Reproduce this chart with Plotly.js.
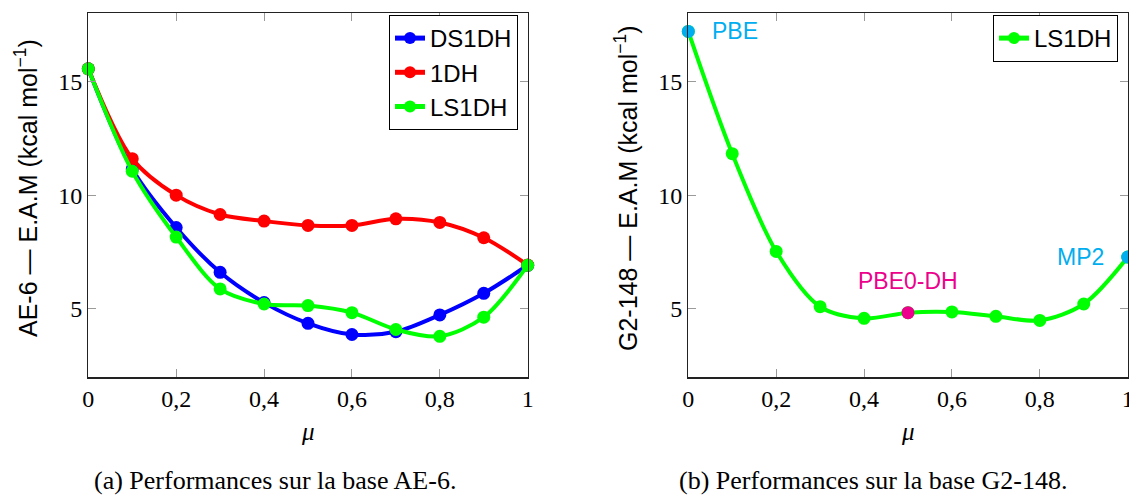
<!DOCTYPE html>
<html>
<head>
<meta charset="utf-8">
<script src="https://cdn.plot.ly/plotly-3.0.1.min.js"></script>
<style>
html,body{margin:0;padding:0;background:#fff;}
#chart{width:1129px;height:498px;}
</style>
</head>
<body>
<div id="chart"></div>
<script>
// ---- data ----
const mu = [0, 0.1, 0.2, 0.3, 0.4, 0.5, 0.6, 0.7, 0.8, 0.9, 1];
const ds1dhAE6 = [15.55, 11.15, 8.58, 6.61, 5.28, 4.37, 3.88, 4.00, 4.74, 5.69, 6.92];
const oneDhAE6 = [15.55, 11.60, 10.00, 9.15, 8.86, 8.67, 8.67, 8.96, 8.80, 8.13, 6.93];
const ls1dhAE6 = [15.55, 11.05, 8.16, 5.88, 5.22, 5.15, 4.84, 4.10, 3.80, 4.64, 6.92];
const ls1dhG2 = [17.19, 11.82, 7.53, 5.10, 4.59, 4.84, 4.87, 4.68, 4.50, 5.22, 7.28];
const seriesNames = ["DS1DH", "1DH", "LS1DH"];
const specialMu = [0, 0.5, 1];
const specialLabels = ["PBE", "PBE0-DH", "MP2"];
const xTickVals = [0, 0.2, 0.4, 0.6, 0.8, 1];
const xTickText = ["0", "0,2", "0,4", "0,6", "0,8", "1"];
const yTickVals = [5, 10, 15];
const yTitleLeft = "AE-6 — E.A.M (kcal mol<sup>−1</sup>)";
const yTitleRight = "G2-148 — E.A.M (kcal mol<sup>−1</sup>)";
const captions = ["(a) Performances sur la base AE-6.", "(b) Performances sur la base G2-148."];

// ---- styles ----
const W = 1129, H = 498;
const BLUE = "#0000ff", RED = "#ff0000", GREEN = "#00ff00";
const CYAN = "#00aeef", MAGENTA = "#ec008c";
const specialColors = [CYAN, MAGENTA, CYAN];
const SANS = "Liberation Sans, Arial, sans-serif";
const SERIF = "Liberation Serif, Times New Roman, serif";
const px = v => v / W, py = v => 1 - v / H;

function lineTrace(y, name, color, xa, ya, legend) {
  return {
    x: mu, y: y, name: name, type: "scatter", mode: "lines+markers",
    xaxis: xa, yaxis: ya, legend: legend, cliponaxis: false,
    line: {color: color, width: 4, shape: "spline", smoothing: 0.9},
    marker: {color: color, size: 13}
  };
}

const specialY = specialMu.map(m => ls1dhG2[mu.indexOf(m)]);

const traces = [
  lineTrace(ds1dhAE6, seriesNames[0], BLUE, "x", "y", "legend"),
  lineTrace(oneDhAE6, seriesNames[1], RED, "x", "y", "legend"),
  lineTrace(ls1dhAE6, seriesNames[2], GREEN, "x", "y", "legend"),
  lineTrace(ls1dhG2, seriesNames[2], GREEN, "x2", "y2", "legend2"),
  {
    x: specialMu, y: specialY, type: "scatter", mode: "markers",
    xaxis: "x2", yaxis: "y2", showlegend: false, cliponaxis: false,
    marker: {color: specialColors, size: 13}
  }
];

function xAxis(domain, anchor) {
  return {
    domain: domain, anchor: anchor, range: [0, 1],
    tickvals: xTickVals, ticktext: xTickText, ticklabeloverflow: "allow",
    ticks: "inside", ticklen: 8, tickcolor: "#9a9a9a", tickwidth: 1,
    showline: true, linecolor: "#222", linewidth: 1.3, mirror: "allticks",
    showgrid: false, zeroline: false,
    tickfont: {family: SERIF, size: 24, color: "#000"}
  };
}
function yAxis(anchor) {
  return {
    domain: [py(377.3), py(13)], anchor: anchor, range: [2, 18],
    tickvals: yTickVals,
    ticks: "inside", ticklen: 8, tickcolor: "#9a9a9a", tickwidth: 1,
    showline: true, linecolor: "#222", linewidth: 1.3, mirror: "allticks",
    showgrid: false, zeroline: false,
    tickfont: {family: SERIF, size: 24, color: "#000"}
  };
}

const annotations = [];
// y titles
annotations.push({xref: "paper", yref: "paper", x: px(26), y: py(188), text: yTitleLeft, textangle: -90,
  showarrow: false, xanchor: "center", yanchor: "middle", font: {family: SANS, size: 25, color: "#000"}});
annotations.push({xref: "paper", yref: "paper", x: px(626), y: py(188), text: yTitleRight, textangle: -90,
  showarrow: false, xanchor: "center", yanchor: "middle", font: {family: SANS, size: 25, color: "#000"}});
// x titles
[308, 908].forEach(cx => annotations.push({xref: "paper", yref: "paper", x: px(cx), y: py(431), text: "<i>μ</i>",
  showarrow: false, xanchor: "center", yanchor: "middle", font: {family: SERIF, size: 25, color: "#000"}}));
// captions
[[275, 0], [873, 1]].forEach(([cx, i]) => annotations.push({xref: "paper", yref: "paper", x: px(cx), y: py(480),
  text: captions[i], showarrow: false, xanchor: "center", yanchor: "middle",
  font: {family: SERIF, size: 26, color: "#000"}}));
// special point labels
const labelPos = [
  {xanchor: "left", yanchor: "middle", xshift: 22, yshift: 0},
  {xanchor: "center", yanchor: "bottom", xshift: 0, yshift: 17},
  {xanchor: "right", yanchor: "middle", xshift: -22, yshift: 0}
];
specialLabels.forEach((lab, i) => annotations.push(Object.assign({
  xref: "x2", yref: "y2", x: specialMu[i], y: specialY[i], text: lab, showarrow: false,
  font: {family: SANS, size: 23, color: specialColors[i]}
}, labelPos[i])));

const legendStyle = {
  bgcolor: "#fff", bordercolor: "#000", borderwidth: 1,
  font: {family: SANS, size: 24, color: "#000"},
  xref: "paper", yref: "paper", xanchor: "right", yanchor: "top",
  itemsizing: "constant", tracegroupgap: 0
};

const layout = {
  width: W, height: H,
  margin: {l: 0, r: 0, t: 0, b: 0},
  paper_bgcolor: "#fff", plot_bgcolor: "#fff",
  showlegend: true,
  xaxis: xAxis([px(88.3), px(527.7)], "y"),
  yaxis: yAxis("x"),
  xaxis2: xAxis([px(688.3), px(1127.7)], "y2"),
  yaxis2: yAxis("x2"),
  legend: Object.assign({}, legendStyle, {x: px(518), y: py(15)}),
  legend2: Object.assign({}, legendStyle, {x: px(1118), y: py(15)}),
  annotations: annotations
};

Plotly.newPlot("chart", traces, layout, {displayModeBar: false, staticPlot: true});
</script>
</body>
</html>
